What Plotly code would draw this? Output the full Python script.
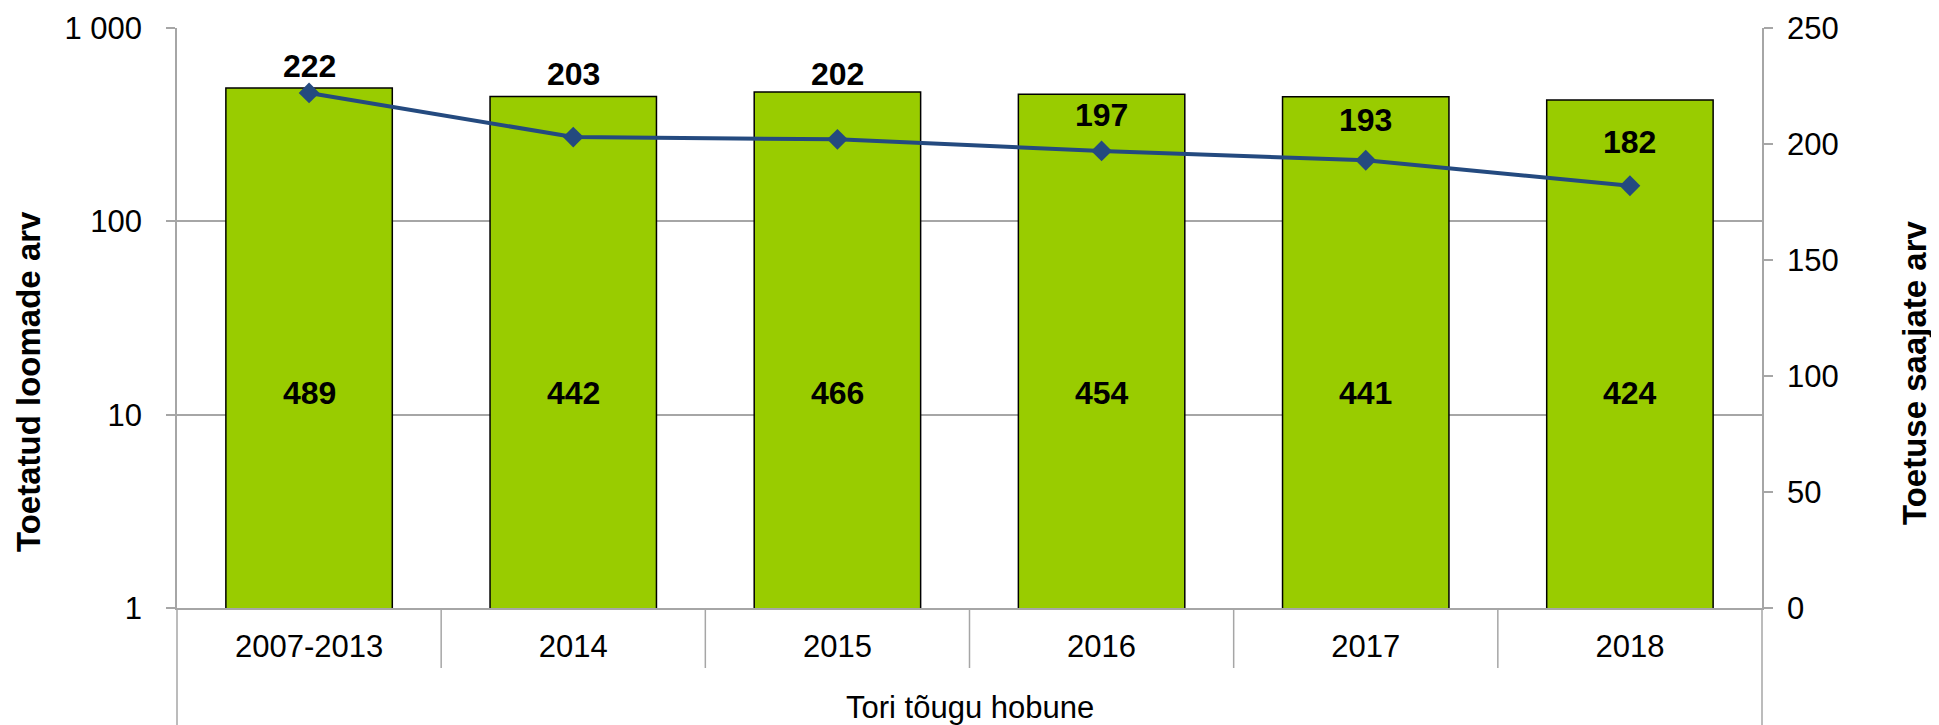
import plotly.graph_objects as go

# data
years = ["2007-2013", "2014", "2015", "2016", "2017", "2018"]
animals = [489, 442, 466, 454, 441, 424]          # Toetatud loomade arv (log axis)
recipients = [222, 203, 202, 197, 193, 182]       # Toetuse saajate arv (right axis)
group_label = "Tori tõugu hobune"
left_ticks = [1, 10, 100, 1000]
left_ticktext = ["1", "10", "100", "1 000"]

# pixel nudges for the recipient labels (placed by hand in the original)
recip_label_shift = [27, 63, 65, 36, 40, 44]

FONT = "Liberation Sans, Arial, sans-serif"
TITLE_FONT = "Liberation Sans Narrow, Arial Narrow, Liberation Sans, Arial, sans-serif"
GRID = "#A6A6A6"
W, H = 1939, 725
PAGE = 8  # default body margin of the html page
# plot area in window pixels
PX0, PX1, PY0, PY1 = 177, 1762, 28, 608
L, T = PX0 - PAGE, PY0 - PAGE
R, B = W - (PX1 - PAGE), H - (PY1 - PAGE)
plot_w, plot_h = PX1 - PX0, PY1 - PY0


def paper_x(px):
    return (px - PX0) / plot_w


def paper_y(py):
    return (PY1 - py) / plot_h


fig = go.Figure()

fig.add_trace(go.Bar(x=years, y=animals, name="Toetatud loomade arv",
                     marker=dict(color="#99CC00", line=dict(color="black", width=1.5)),
                     width=0.63, hoverinfo="x+y"))

fig.add_trace(go.Scatter(x=years, y=recipients, yaxis="y2", mode="lines+markers",
                         name="Toetuse saajate arv",
                         line=dict(color="#244A7F", width=4),
                         marker=dict(symbol="diamond", size=16, color="#244A7F")))

annotations = []
# category annotations use the index, numeric-looking names would be read as indices
for i, v in enumerate(animals):
    annotations.append(dict(x=i, y=1.11, xref="x", yref="y", text=f"<b>{v}</b>",
                            showarrow=False, font=dict(family=FONT, size=32, color="black")))
for i, (v, s) in enumerate(zip(recipients, recip_label_shift)):
    annotations.append(dict(x=i, y=v, xref="x", yref="y2", yshift=s, text=f"<b>{v}</b>",
                            showarrow=False, font=dict(family=FONT, size=32, color="black")))

# axis titles and outer category label
annotations.append(dict(x=paper_x(28), y=paper_y(382), xref="paper", yref="paper",
                        xanchor="center", yanchor="middle",
                        text="<b>Toetatud loomade arv</b>", textangle=-90, showarrow=False,
                        font=dict(family=TITLE_FONT, size=33, color="black")))
annotations.append(dict(x=paper_x(1914), y=paper_y(373), xref="paper", yref="paper",
                        xanchor="center", yanchor="middle",
                        text="<b>Toetuse saajate arv</b>", textangle=-90, showarrow=False,
                        font=dict(family=TITLE_FONT, size=33, color="black")))
annotations.append(dict(x=0.5, y=paper_y(707), xref="paper", yref="paper",
                        xanchor="center", yanchor="middle",
                        text=group_label, showarrow=False,
                        font=dict(family=FONT, size=31, color="black")))

# category dividers below the axis and the long outer edges
shapes = []
for i in range(1, len(years)):
    shapes.append(dict(type="line", xref="x", yref="paper", x0=i - 0.5, x1=i - 0.5,
                       y0=0, y1=paper_y(668), line=dict(color=GRID, width=1.5)))
for xp in (0, 1):
    shapes.append(dict(type="line", xref="paper", yref="paper", x0=xp, x1=xp,
                       y0=0, y1=paper_y(740), line=dict(color=GRID, width=1.5)))

fig.update_layout(
    width=W, height=H,
    margin=dict(l=L, r=R, t=T, b=B, autoexpand=False),
    plot_bgcolor="white", paper_bgcolor="white",
    showlegend=False,
    font=dict(family=FONT, size=31, color="black"),
    xaxis=dict(type="category", range=[-0.5, len(years) - 0.5], showgrid=False, ticks="",
               showline=True, linecolor=GRID, linewidth=1.5, tickfont=dict(size=31),
               ticklabelstandoff=10),
    yaxis=dict(type="log", range=[0, 3], tickvals=left_ticks, ticktext=left_ticktext,
               showgrid=True, gridcolor=GRID, gridwidth=1.5, showline=True,
               linecolor=GRID, linewidth=1.5, ticks="outside", ticklen=9,
               tickcolor=GRID, tickwidth=1.5, ticklabelstandoff=18,
               tickfont=dict(size=31), zeroline=False),
    yaxis2=dict(overlaying="y", side="right", range=[0, 250], dtick=50,
                showgrid=False, showline=True, linecolor=GRID, linewidth=1.5,
                ticks="outside", ticklen=9, tickcolor=GRID, tickwidth=1.5,
                ticklabelstandoff=8, tickfont=dict(size=31), zeroline=False),
    annotations=annotations,
    shapes=shapes,
)

fig.write_html("out.html")
